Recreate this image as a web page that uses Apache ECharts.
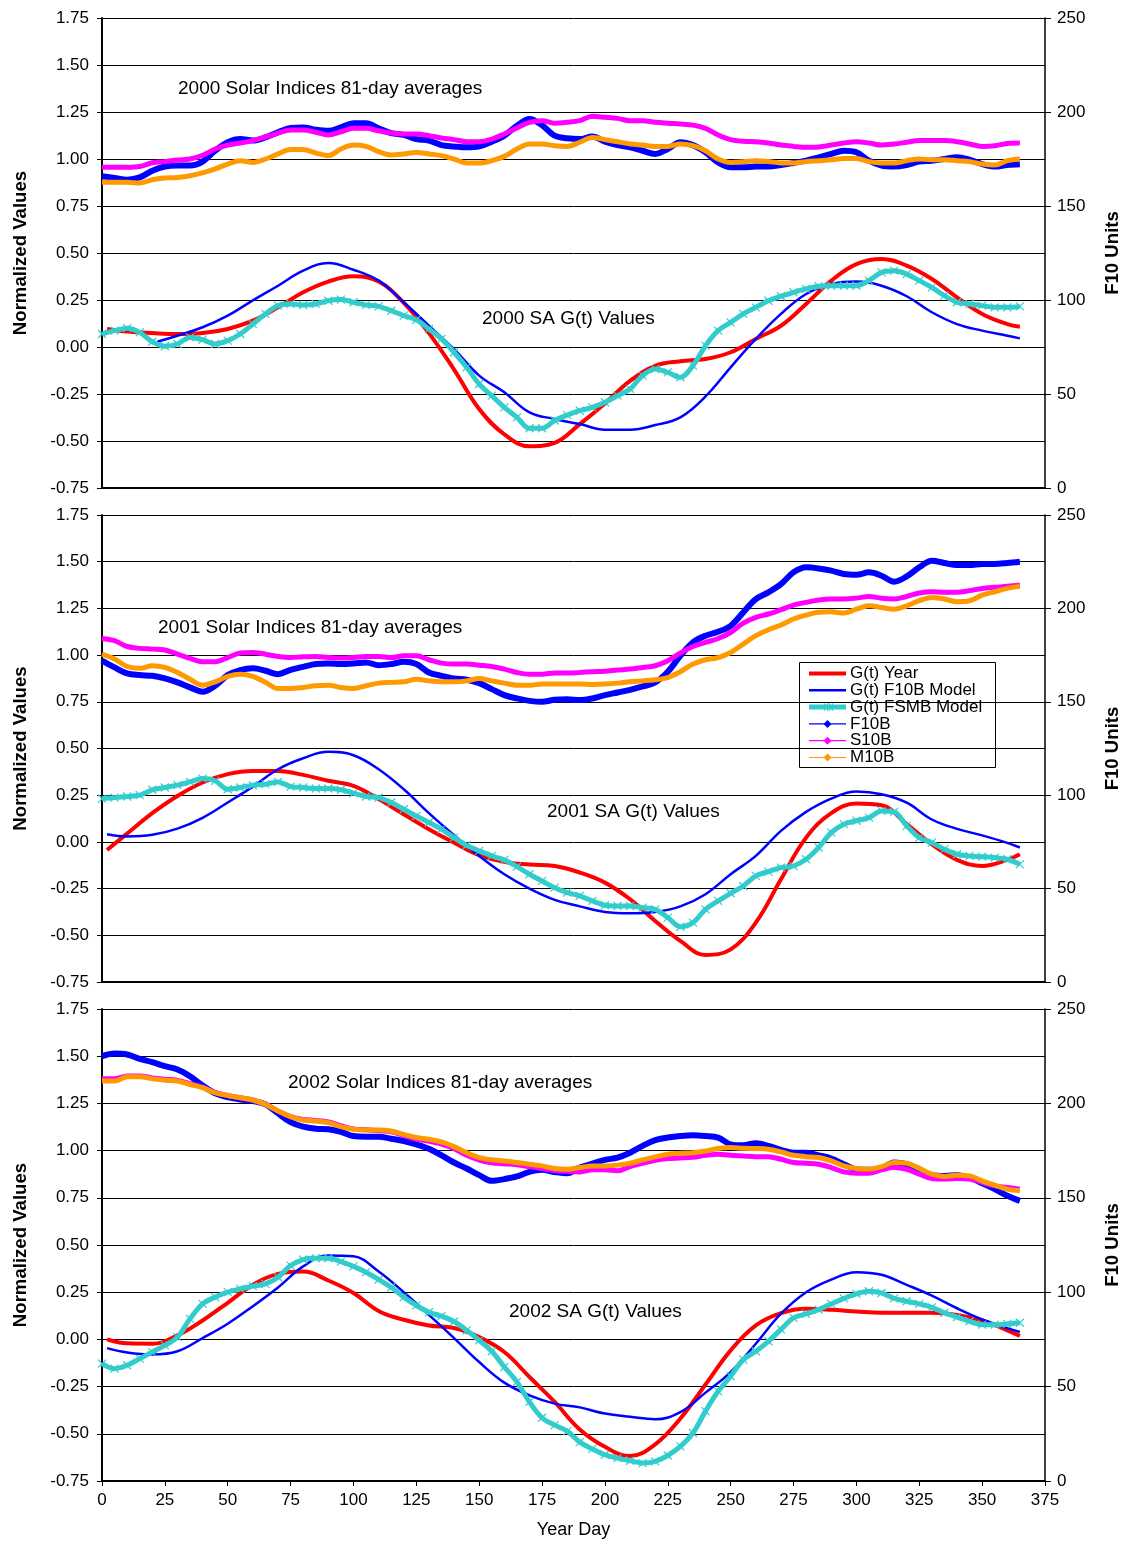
<!DOCTYPE html>
<html>
<head>
<meta charset="utf-8">
<script src="https://cdn.jsdelivr.net/npm/echarts@6/dist/echarts.min.js"></script>
<style>
  html, body { margin: 0; padding: 0; background: #fff; }
  #chart { width: 1128px; height: 1542px; }
</style>
</head>
<body>
<div id="chart"></div>
<script>
// ---- Day grids -------------------------------------------------------------
// Solar index averages and the FSMB model are listed every 5 days.
const days5 = [0,5,10,15,20,25,30,35,40,45,50,55,60,65,70,75,80,85,90,95,
  100,105,110,115,120,125,130,135,140,145,150,155,160,165,170,175,180,185,190,195,
  200,205,210,215,220,225,230,235,240,245,250,255,260,265,270,275,280,285,290,295,
  300,305,310,315,320,325,330,335,340,345,350,355,360,365];
// Smooth G(t) curves are listed every 10 days.
const days10 = [2,10,20,30,40,50,60,70,80,90,100,110,120,130,140,150,160,170,180,190,
  200,210,220,230,240,250,260,270,280,290,300,310,320,330,340,350,360,365];
const daysModel2000 = [22,30,40,50,60,70,80,90,100,110,120,130,140,150,160,170,180,190,
  200,210,220,230,240,250,260,270,280,290,300,310,320,330,340,350,360,365];

// ---- 2000 ------------------------------------------------------------------
const gYear2000 = [0.096,0.082,0.074,0.069,0.074,0.096,0.14,0.211,0.291,0.348,
  0.376,0.348,0.235,0.074,-0.12,-0.33,-0.465,-0.528,-0.51,-0.41,
  -0.30,-0.18,-0.10,-0.076,-0.064,-0.028,0.043,0.113,0.229,0.353,
  0.441,0.468,0.433,0.362,0.264,0.176,0.122,0.108];
const gF10b2000 = [0.028,0.06,0.105,0.167,0.248,0.326,0.406,0.447,0.411,0.353,
  0.238,0.113,-0.011,-0.152,-0.241,-0.348,-0.383,-0.41,-0.44,-0.44,
  -0.415,-0.374,-0.263,-0.108,0.043,0.176,0.282,0.335,0.348,0.326,
  0.27,0.185,0.122,0.087,0.06,0.046];
const gFsmb2000 = [0.069,0.087,0.1,0.078,0.028,0.004,0.016,0.051,0.039,0.016,
  0.034,0.069,0.122,0.176,0.22,0.229,0.223,0.229,0.246,0.252,
  0.238,0.223,0.216,0.193,0.167,0.145,0.096,0.043,-0.028,-0.108,
  -0.197,-0.259,-0.321,-0.374,-0.432,-0.432,-0.391,-0.362,-0.339,-0.321,
  -0.294,-0.259,-0.223,-0.152,-0.117,-0.135,-0.161,-0.099,0.007,0.087,
  0.131,0.176,0.211,0.246,0.27,0.291,0.309,0.323,0.326,0.326,
  0.326,0.353,0.397,0.406,0.388,0.353,0.317,0.273,0.238,0.229,
  0.22,0.211,0.211,0.216];
const f10b2000 = [165.8,164.9,164,165.2,168.8,171,171.5,171.5,173.6,179.4,
  183.9,185.6,184.8,186.5,189.2,191.5,191.8,190.6,190,191.8,
  194,194,191.3,188.8,187.8,185.6,184.8,182.4,181.7,181.2,
  181.7,184.2,187.4,192.7,196.3,193,187.4,186,185.6,187,
  184.2,182.4,181.2,179.4,177.7,180.3,183.9,182.4,178.6,173.2,
  170.6,170.6,171,171,171.8,172.9,174.1,175.9,177.7,179.4,
  178.6,174.1,171.5,171,171.8,173.6,174.1,175,175.9,174.6,
  172.3,171,171.8,172.2];
const s10b2000 = [170.6,170.6,170.6,171,173,173.6,174.5,175,177,180.3,
  182.4,183.5,184.8,186.7,188.8,190.4,190.4,189.2,187.8,189.5,
  191.3,191.3,190,188.8,188.3,188.3,187.4,186.2,185.3,184.2,
  184.2,185.6,188.3,191.5,194.5,195.4,194,194.5,195.4,197.7,
  197.2,196.6,195.4,195.4,194.5,194,193.6,193,191.3,187.8,
  185.3,184.4,184.2,183.5,182.4,181.7,181.2,181.4,182.4,183.5,
  184.2,183.5,182.4,183,183.9,184.8,184.8,184.8,184.2,183,
  181.7,182,183.3,183.5];
const m10b2000 = [162.6,162.6,162.6,162.2,164,164.9,165.2,166.1,167.6,169.7,
  172.3,174.1,173.2,175,177.7,180,180,178.2,176.8,180.3,
  182.4,181.7,178.9,177.1,177.7,178.5,177.7,176.8,175,172.9,
  172.9,174.1,176.4,180.3,183,183,182.1,181.7,183.9,186.5,
  185.3,184.2,183,182.4,181.7,181.7,183,182.1,179.4,175,
  173.2,173.6,174.1,173.7,172.9,172.9,173.6,174.1,174.6,175.3,
  175.3,173.6,172.9,172.9,174.1,175,174.6,174.6,174.1,173.6,
  172.3,171.8,174.1,175];

// ---- 2001 ------------------------------------------------------------------
const gYear2001 = [-0.043,0.045,0.154,0.246,0.318,0.363,0.38,0.379,0.359,0.327,
  0.3,0.229,0.148,0.068,-0.004,-0.071,-0.107,-0.121,-0.129,-0.164,
  -0.218,-0.307,-0.423,-0.53,-0.605,-0.575,-0.432,-0.2,0.023,0.154,
  0.205,0.196,0.095,-0.013,-0.096,-0.129,-0.096,-0.066];
const gF10b2001 = [0.041,0.029,0.038,0.071,0.129,0.211,0.296,0.389,0.448,0.482,
  0.464,0.389,0.282,0.154,0.036,-0.075,-0.173,-0.25,-0.31,-0.345,
  -0.375,-0.382,-0.375,-0.345,-0.28,-0.173,-0.075,0.059,0.161,0.232,
  0.27,0.255,0.21,0.12,0.07,0.035,-0.005,-0.03];
const gFsmb2001 = [0.232,0.237,0.243,0.25,0.279,0.291,0.304,0.321,0.339,0.327,
  0.282,0.291,0.304,0.309,0.321,0.296,0.291,0.286,0.286,0.279,
  0.261,0.243,0.237,0.211,0.175,0.139,0.104,0.068,0.023,-0.018,
  -0.048,-0.075,-0.096,-0.132,-0.173,-0.209,-0.245,-0.271,-0.289,-0.316,
  -0.339,-0.343,-0.343,-0.352,-0.361,-0.405,-0.454,-0.432,-0.361,-0.316,
  -0.275,-0.236,-0.182,-0.159,-0.138,-0.129,-0.093,-0.03,0.05,0.095,
  0.113,0.13,0.166,0.161,0.086,0.023,-0.004,-0.039,-0.066,-0.075,
  -0.079,-0.084,-0.093,-0.12];
const f10b2001 = [172,168.4,165.2,164.3,163.9,162.5,160.4,157.7,155.4,158.6,
  164.3,167,167.9,166.6,164.8,167.1,168.7,170.2,170.5,170.2,
  170.5,171.1,169.6,170.2,171.4,170.2,165.7,163.9,162.5,161.8,
  160,156.8,153.6,151.8,150.5,150,151.1,151.4,150.9,151.8,
  153.6,155,156.4,158.2,160.4,166.1,174.6,181.8,185.4,187.5,
  190.7,197.9,205,208.6,213,219.3,222,221.4,220.2,218.4,
  218,219.3,217.5,214.3,217.1,222,225.5,224.3,223.2,223.2,
  223.8,223.8,224.3,225];
const s10b2001 = [183.9,182.7,179.6,178.6,178.2,177.7,175.5,173.2,171.4,171.4,
  173.7,176.1,176.4,175.5,174.3,173.7,174.1,174.3,173.7,173.4,
  173.7,174.3,174.3,173.7,174.6,174.6,172.5,170.7,170.2,170.2,
  169.6,168.9,167.5,165.7,164.8,164.8,165.4,165.4,165.7,166.1,
  166.4,167,167.5,168.4,169.3,172,176.1,179.6,181.8,183.9,
  187.1,192.1,195.2,197,199.3,201.8,203.2,204.5,205,205,
  205.5,206.4,205.4,205,206.4,208.2,208.9,208.6,208.6,209.5,
  210.7,211.3,211.8,212.5];
const m10b2001 = [175.5,172.9,168.9,167.9,169.3,168.4,165.7,162.1,158.9,160.7,
  163.6,164.8,163.6,160.4,157.1,157.1,157.7,158.6,158.9,157.7,
  157.1,158.6,160,160.4,160.7,162.1,161.2,160.7,160.7,161.2,
  162.5,161.2,160,158.9,158.9,159.5,159.5,159.5,159.5,159.3,
  159.5,160,160.7,161.2,161.8,163,166.1,170.2,172.5,173.7,
  176.4,180.9,185.4,188.6,191.1,194.3,196.4,197.9,198.2,197.5,
  199.6,201.4,200.5,199.6,201.4,204.1,205.9,205,203.6,204.1,
  207.1,208.9,210.7,211.8];

// ---- 2002 ------------------------------------------------------------------
const gYear2002 = [0.0,-0.021,-0.023,0.021,0.1,0.194,0.29,0.347,0.359,0.312,
  0.246,0.151,0.104,0.074,0.06,0.012,-0.067,-0.199,-0.331,-0.477,
  -0.569,-0.618,-0.556,-0.419,-0.239,-0.058,0.074,0.139,0.162,0.157,
  0.148,0.141,0.141,0.141,0.13,0.1,0.048,0.018];
const gF10b2002 = [-0.046,-0.069,-0.08,-0.063,0.007,0.083,0.176,0.275,0.387,0.445,
  0.44,0.36,0.25,0.13,0.007,-0.12,-0.229,-0.296,-0.34,-0.36,
  -0.393,-0.41,-0.423,-0.385,-0.282,-0.173,-0.023,0.136,0.25,0.317,
  0.356,0.342,0.289,0.232,0.165,0.106,0.06,0.039];
const gFsmb2002 = [-0.128,-0.155,-0.137,-0.102,-0.067,-0.032,0.012,0.109,0.188,0.224,
  0.25,0.268,0.282,0.294,0.329,0.391,0.423,0.43,0.43,0.412,
  0.387,0.356,0.317,0.276,0.224,0.18,0.144,0.123,0.095,0.048,
  -0.005,-0.063,-0.146,-0.225,-0.331,-0.415,-0.454,-0.486,-0.544,-0.58,
  -0.611,-0.629,-0.643,-0.655,-0.646,-0.615,-0.567,-0.496,-0.38,-0.275,
  -0.195,-0.107,-0.063,-0.01,0.053,0.114,0.135,0.158,0.188,0.217,
  0.241,0.255,0.246,0.217,0.202,0.188,0.17,0.141,0.118,0.096,
  0.078,0.078,0.082,0.088];
const f10b2002 = [225,226.4,225.9,223.6,221.8,219.7,218,214.4,209.5,205.3,
  203.3,202.1,201.2,199.5,194.7,190.1,187.7,186.6,186.3,184.9,
  182.7,182.4,182.4,181.3,180.1,178.3,176,172.5,168.7,165.5,
  162,159,159.9,161.3,163.7,164.8,163.7,163,166,168.1,
  170.1,171.3,173.9,177.5,180.6,181.9,182.7,183.1,182.7,181.9,
  178.3,177.8,178.9,177.5,175.4,173.9,173.9,172.5,170.8,167.8,
  165.1,164.8,165.5,168.7,167.8,165.1,162,161.6,162,160.7,
  157.7,154.6,151.1,148.4];
const s10b2002 = [213,213,214.5,214.5,213.5,212.8,212.2,210.5,208.6,205.8,
  204.2,203,201.8,199.5,196,193,191.5,191,190.2,188.2,
  186.5,186,185.5,185,183,181,180,178.5,176,172.5,
  170,168.5,168,167.5,166.5,165.5,164.5,164,163.7,164.8,
  164.8,164.3,166.5,168.3,169.9,170.8,171.1,171.5,172.5,173.1,
  172.5,172.2,171.8,171.8,170.4,168.7,168.3,167.8,166,163.7,
  163,163,164.8,166,165.1,162.5,160.2,159.9,160.2,159.9,
  158.1,156.3,155.5,154.6];
const m10b2002 = [211.8,211.8,214.1,214.1,213,212.3,211.8,210,208.3,205.6,
  204.2,203,201.8,199.5,196,193,191.2,190.7,189.8,187.7,
  186.3,185.9,185.9,185.4,183.6,181.9,181,179.6,177.1,173.9,
  171.3,170.1,169.5,168.7,167.8,166.9,165.5,165.1,166,166.9,
  166.9,167.3,168.3,170.1,171.7,173.1,173.6,173.9,174.8,176.1,
  176.6,176.2,176.1,175.7,174.3,172.5,171.8,171.3,169.5,166.9,
  165.5,165.1,166.5,168.7,168.3,165.5,162.5,161.3,162,161.6,
  159,156.7,154.6,153.7];

// ---- Labels ------------------------------------------------------------------
const years = ['2000', '2001', '2002'];
const seriesNames = ['G(t) Year', 'G(t) F10B Model', 'G(t) FSMB Model', 'F10B', 'S10B', 'M10B'];
const leftAxisTitle = 'Normalized Values';
const rightAxisTitle = 'F10 Units';
const bottomAxisTitle = 'Year Day';

// ---- Panel table ------------------------------------------------------------
const panels = [
  { year: years[0], gYear: [days10, gYear2000], gF10b: [daysModel2000, gF10b2000], gFsmb: gFsmb2000,
    f10b: f10b2000, s10b: s10b2000, m10b: m10b2000 },
  { year: years[1], gYear: [days10, gYear2001], gF10b: [days10, gF10b2001], gFsmb: gFsmb2001,
    f10b: f10b2001, s10b: s10b2001, m10b: m10b2001 },
  { year: years[2], gYear: [days10, gYear2002], gF10b: [days10, gF10b2002], gFsmb: gFsmb2002,
    f10b: f10b2002, s10b: s10b2002, m10b: m10b2002 }
];

// ---- Layout and style --------------------------------------------------------
const FONT = '"Liberation Sans", Arial, Helvetica, sans-serif';
const PLOT_LEFT = 102, PLOT_WIDTH = 943;
const PANEL_TOP = [18, 515, 1009];
const PANEL_HEIGHT = [470, 467, 472];
const COLORS = { gYear: '#FF0000', gF10b: '#0000FF', gFsmb: '#33CCCC', f10b: '#0000FF', s10b: '#FF00FF', m10b: '#FF9900' };
const X_MARK = 'path://M0,0L10,10M10,0L0,10';

const pairs = (xs, ys) => ys.map((v, k) => [xs[k], v]);

const grids = [], xAxes = [], yAxes = [], series = [];

panels.forEach((p, i) => {
  const last = i === panels.length - 1;
  grids.push({ left: PLOT_LEFT, width: PLOT_WIDTH, top: PANEL_TOP[i], height: PANEL_HEIGHT[i], outerBoundsMode: 'none' });

  xAxes.push({
    type: 'value', gridIndex: i, min: 0, max: 375, interval: 25,
    axisLine: { show: true, onZero: false, lineStyle: { color: '#000', width: 2 } },
    axisTick: { show: last, length: 5, lineStyle: { color: '#000', width: 1 } },
    axisLabel: { show: last, margin: 11, fontSize: 17, color: '#000', fontFamily: FONT },
    splitLine: { show: false },
    name: last ? bottomAxisTitle : '', nameLocation: 'middle', nameGap: 40,
    nameTextStyle: { fontSize: 18, color: '#000', fontFamily: FONT }
  });

  yAxes.push({
    type: 'value', gridIndex: i, position: 'left', min: -0.75, max: 1.75, interval: 0.25,
    axisLine: { show: true, onZero: false, lineStyle: { color: '#000', width: 2 } },
    axisTick: { show: true, length: 5, lineStyle: { color: '#000', width: 1 } },
    axisLabel: { margin: 13, fontSize: 17, color: '#000', fontFamily: FONT, formatter: v => v.toFixed(2) },
    splitLine: { show: true, lineStyle: { color: '#000', width: 1 } },
    name: leftAxisTitle, nameLocation: 'middle', nameGap: 72, nameRotate: 90,
    nameTextStyle: { fontSize: 18.6, fontWeight: 'bold', color: '#000', fontFamily: FONT }
  });
  yAxes.push({
    type: 'value', gridIndex: i, position: 'right', min: 0, max: 250, interval: 50,
    axisLine: { show: true, onZero: false, lineStyle: { color: '#000', width: 1.5 } },
    axisTick: { show: true, length: 6, lineStyle: { color: '#000', width: 1 } },
    axisLabel: { margin: 12, fontSize: 17, color: '#000', fontFamily: FONT },
    splitLine: { show: false },
    name: rightAxisTitle, nameLocation: 'middle', nameGap: 58, nameRotate: 90,
    nameTextStyle: { fontSize: 18.6, fontWeight: 'bold', color: '#000', fontFamily: FONT }
  });

  const left = 2 * i, right = 2 * i + 1;
  const base = { type: 'line', xAxisIndex: i, silent: true, animation: false };

  series.push(Object.assign({}, base, {
    name: seriesNames[0], yAxisIndex: left, data: pairs(p.gYear[0], p.gYear[1]),
    smooth: 0.4, symbol: 'none', lineStyle: { color: COLORS.gYear, width: 4 }, z: 2
  }));
  series.push(Object.assign({}, base, {
    name: seriesNames[1], yAxisIndex: left, data: pairs(p.gF10b[0], p.gF10b[1]),
    smooth: 0.4, symbol: 'none', lineStyle: { color: COLORS.gF10b, width: 2.5 }, z: 3
  }));
  series.push(Object.assign({}, base, {
    name: seriesNames[2], yAxisIndex: left, data: pairs(days5, p.gFsmb),
    smooth: 0.35, symbol: X_MARK, symbolSize: 8, showSymbol: true,
    itemStyle: { color: 'none', borderColor: COLORS.gFsmb, borderWidth: 1.2 },
    lineStyle: { color: COLORS.gFsmb, width: 5 }, z: 4
  }));
  series.push(Object.assign({}, base, {
    name: seriesNames[3], yAxisIndex: right, data: pairs(days5, p.f10b),
    smooth: 0.35, symbol: 'none', lineStyle: { color: COLORS.f10b, width: 6 }, z: 5
  }));
  series.push(Object.assign({}, base, {
    name: seriesNames[4], yAxisIndex: right, data: pairs(days5, p.s10b),
    smooth: 0.35, symbol: 'none', lineStyle: { color: COLORS.s10b, width: 5 }, z: 6
  }));
  series.push(Object.assign({}, base, {
    name: seriesNames[5], yAxisIndex: right, data: pairs(days5, p.m10b),
    smooth: 0.35, symbol: 'none', lineStyle: { color: COLORS.m10b, width: 5 }, z: 7
  }));
});

// ---- Panel captions -----------------------------------------------------------
const captionPos = [
  { avg: [178, 89], sa: [482, 319] },
  { avg: [158, 628], sa: [547, 812] },
  { avg: [288, 1083], sa: [509, 1312] }
];
const graphics = [];
panels.forEach((p, i) => {
  graphics.push({ type: 'text', x: captionPos[i].avg[0], y: captionPos[i].avg[1], z: 50,
    style: { text: p.year + ' Solar Indices 81-day averages', font: '19px ' + FONT, fill: '#000', verticalAlign: 'middle' } });
  graphics.push({ type: 'text', x: captionPos[i].sa[0], y: captionPos[i].sa[1], z: 50,
    style: { text: p.year + ' SA G(t) Values', font: '19px ' + FONT, fill: '#000', verticalAlign: 'middle' } });
});

// ---- Key (middle panel) ---------------------------------------------------------
const KEY_X = 799, KEY_Y = 662, KEY_W = 196, KEY_H = 105, ROW_H = 16.8;
const keyStyle = [
  { color: COLORS.gYear, width: 4, mark: null },
  { color: COLORS.gF10b, width: 2.5, mark: null },
  { color: COLORS.gFsmb, width: 5, mark: 'x' },
  { color: COLORS.f10b, width: 1.2, mark: 'diamond' },
  { color: COLORS.s10b, width: 1.2, mark: 'diamond' },
  { color: COLORS.m10b, width: 1.2, mark: 'diamond' }
];
const keyChildren = [
  { type: 'rect', shape: { x: KEY_X + 0.5, y: KEY_Y + 0.5, width: KEY_W, height: KEY_H },
    style: { fill: '#fff', stroke: '#000', lineWidth: 1 } }
];
seriesNames.forEach((name, k) => {
  const cy = KEY_Y + 11.5 + k * ROW_H;
  const s = keyStyle[k];
  keyChildren.push({ type: 'line', shape: { x1: 809, y1: cy, x2: 846, y2: cy },
    style: { stroke: s.color, lineWidth: s.width } });
  if (s.mark === 'diamond') {
    keyChildren.push({ type: 'polygon', shape: { points: [[827.5, cy - 4], [831.5, cy], [827.5, cy + 4], [823.5, cy]] },
      style: { fill: s.color } });
  } else if (s.mark === 'x') {
    [[824, 828], [829, 833]].forEach(([a, b]) => {
      keyChildren.push({ type: 'line', shape: { x1: a, y1: cy - 4, x2: b, y2: cy + 4 }, style: { stroke: s.color, lineWidth: 1 } });
      keyChildren.push({ type: 'line', shape: { x1: b, y1: cy - 4, x2: a, y2: cy + 4 }, style: { stroke: s.color, lineWidth: 1 } });
    });
  }
  keyChildren.push({ type: 'text', x: 850, y: cy,
    style: { text: name, font: '17px ' + FONT, fill: '#000', verticalAlign: 'middle' } });
});
graphics.push({ type: 'group', z: 60, children: keyChildren });

const chart = echarts.init(document.getElementById('chart'), null, { renderer: 'canvas' });
chart.setOption({
  backgroundColor: '#fff',
  animation: false,
  textStyle: { fontFamily: FONT },
  grid: grids,
  xAxis: xAxes,
  yAxis: yAxes,
  series: series,
  graphic: graphics
});
</script>
</body>
</html>
